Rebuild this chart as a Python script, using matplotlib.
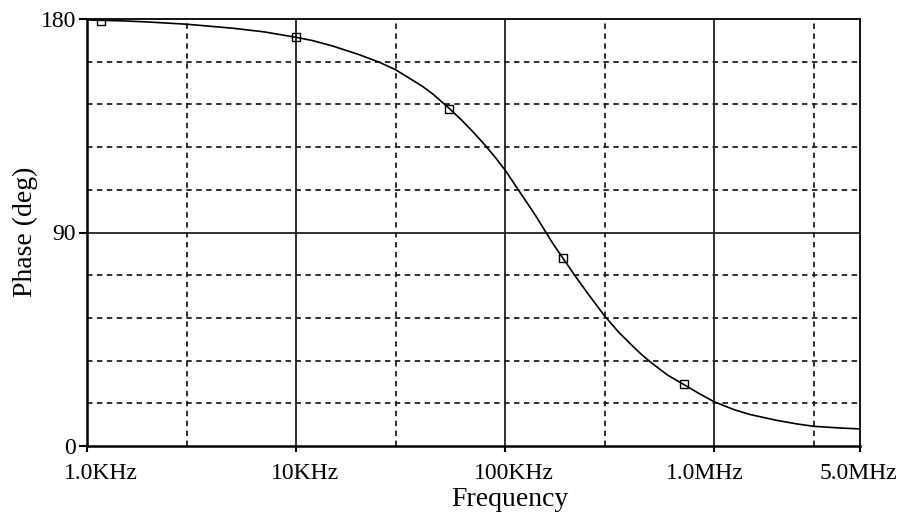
import matplotlib.pyplot as plt
import matplotlib.transforms as mtransforms

# phase response (Hz, degrees)
freq = [1e3, 1.5e3, 2e3, 3e3, 5e3, 7e3, 10e3, 12e3, 15e3, 20e3, 25e3, 30e3,
        40e3, 45e3, 54e3, 62e3, 70e3, 80e3, 90e3, 100e3, 120e3, 140e3, 156e3,
        170e3, 190e3, 220e3, 250e3, 300e3, 350e3, 400e3, 450e3, 500e3, 600e3,
        718e3, 850e3, 1e6, 1.25e6, 1.5e6, 2e6, 2.5e6, 3e6, 4e6, 5e6]
phase = [179.6, 179.2, 178.7, 177.8, 176.1, 174.6, 172.3, 170.9, 168.6, 165.0,
         161.8, 158.6, 151.8, 148.5, 142.4, 137.4, 132.6, 127.0, 121.6, 116.4,
         106.0, 97.2, 90.5, 85.2, 79.0, 70.9, 64.1, 54.8, 48.0, 42.9, 38.6,
         35.2, 29.9, 25.9, 22.1, 18.7, 15.3, 13.2, 10.8, 9.3, 8.3, 7.6, 7.2]

# trace markers
marker_freq = [1.17e3, 10e3, 54e3, 190e3, 718e3]
marker_phase = [179.3, 172.4, 142.2, 79.3, 26.0]

xticks = [1e3, 10e3, 100e3, 1e6, 5e6]
xticklabels = ["1.0KHz", "10KHz", "100KHz", "1.0MHz", "5.0MHz"]
xlabel_shift = [14, 9, 9, -9, -2]   # px nudges for the tick labels
yticks = [0, 90, 180]

major_x = [10e3, 100e3, 1e6]
minor_x = [3e3, 30e3, 300e3, 3e6]
minor_y = [18, 36, 54, 72, 108, 126, 144, 162]

plt.rcParams["font.family"] = ["Liberation Serif", "DejaVu Serif"]

fig = plt.figure(figsize=(9.04, 5.21), dpi=100)
ax = fig.add_axes([87 / 904, 1 - 446 / 521, (860 - 87) / 904, (446 - 19) / 521])

ax.set_xscale("log")
ax.set_xlim(1e3, 5e6)
ax.set_ylim(0, 180)

# grid: solid at decades / 90 deg, dashed in between
for x in major_x:
    ax.axvline(x, color="#202020", lw=1.3, zorder=1)
for x in minor_x:
    ax.axvline(x, color="#202020", lw=1.3, ls=(0, (3, 2.5)), zorder=1)
ax.axhline(90, color="#202020", lw=1.3, zorder=1)
for y in minor_y:
    ax.axhline(y, color="#202020", lw=1.3, ls=(0, (3, 2.5)), zorder=1)

ax.plot(freq, phase, color="black", lw=1.2, zorder=3)
ax.plot(marker_freq, marker_phase, ls="none", marker="s", ms=6, mfc="none",
        mec="black", mew=1.0, zorder=4)

ax.set_xticks(xticks)
ax.set_xticklabels(xticklabels)
ax.xaxis.set_minor_locator(plt.NullLocator())
ax.set_yticks(yticks)
ax.set_yticklabels([str(v) for v in yticks])
ax.tick_params(axis="x", direction="out", length=4, width=1.5, pad=8,
               labelsize=17, colors="black")
ax.tick_params(axis="y", direction="out", length=6, width=1.5, pad=2,
               labelsize=17, colors="black")

for lab, dx in zip(ax.get_xticklabels(), xlabel_shift):
    lab.set_transform(lab.get_transform() +
                      mtransforms.ScaledTranslation(dx / 100, 0, fig.dpi_scale_trans))

for side in ["left", "bottom"]:
    ax.spines[side].set_linewidth(1.8)
for side in ["top", "right"]:
    ax.spines[side].set_linewidth(1.3)

fig.text(510 / 904, 1 - 500 / 521, "Frequency", ha="center", va="center", fontsize=20)
fig.text(25 / 904, 1 - 232 / 521, "Phase (deg)", ha="center", va="center",
         rotation=90, fontsize=20)

fig.savefig("out.png", dpi=100)
